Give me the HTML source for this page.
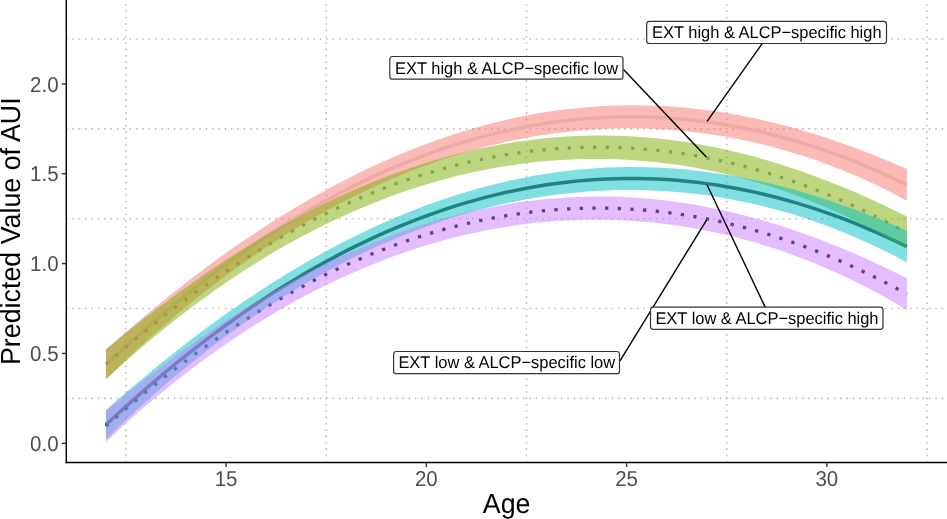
<!DOCTYPE html>
<html><head><meta charset="utf-8"><style>
html,body{margin:0;padding:0;background:#fff;}
svg{display:block;font-family:"Liberation Sans",sans-serif;text-rendering:geometricPrecision;will-change:transform;}
</style></head><body>
<svg width="947" height="519" viewBox="0 0 947 519">
<rect width="947" height="519" fill="#fff"/>
<line x1="66" y1="398.38" x2="947" y2="398.38" stroke="#BDBDBD" stroke-width="1.6" stroke-dasharray="1.6 4.745"/>
<line x1="66" y1="308.53" x2="947" y2="308.53" stroke="#BDBDBD" stroke-width="1.6" stroke-dasharray="1.6 4.745"/>
<line x1="66" y1="218.68" x2="947" y2="218.68" stroke="#BDBDBD" stroke-width="1.6" stroke-dasharray="1.6 4.745"/>
<line x1="66" y1="128.83" x2="947" y2="128.83" stroke="#BDBDBD" stroke-width="1.6" stroke-dasharray="1.6 4.745"/>
<line x1="66" y1="38.98" x2="947" y2="38.98" stroke="#BDBDBD" stroke-width="1.6" stroke-dasharray="1.6 4.745"/>
<line x1="125.97" y1="462.6" x2="125.97" y2="0" stroke="#BDBDBD" stroke-width="1.6" stroke-dasharray="1.6 4.745"/>
<line x1="326.23" y1="462.6" x2="326.23" y2="0" stroke="#BDBDBD" stroke-width="1.6" stroke-dasharray="1.6 4.745"/>
<line x1="526.48" y1="462.6" x2="526.48" y2="0" stroke="#BDBDBD" stroke-width="1.6" stroke-dasharray="1.6 4.745"/>
<line x1="726.72" y1="462.6" x2="726.72" y2="0" stroke="#BDBDBD" stroke-width="1.6" stroke-dasharray="1.6 4.745"/>
<line x1="926.98" y1="462.6" x2="926.98" y2="0" stroke="#BDBDBD" stroke-width="1.6" stroke-dasharray="1.6 4.745"/>
<path d="M105.95,364.52 L115.96,355.17 L125.97,346.00 L135.99,337.01 L146.00,328.20 L156.01,319.57 L166.03,311.12 L176.04,302.85 L186.05,294.76 L196.06,286.85 L206.07,279.12 L216.09,271.57 L226.10,264.19 L236.11,257.00 L246.12,249.99 L256.14,243.16 L266.15,236.51 L276.16,230.04 L286.18,223.74 L296.19,217.63 L306.20,211.70 L316.21,205.95 L326.23,200.37 L336.24,194.98 L346.25,189.77 L356.26,184.74 L366.27,179.88 L376.29,175.21 L386.30,170.72 L396.31,166.40 L406.32,162.27 L416.34,158.32 L426.35,154.54 L436.36,150.95 L446.38,147.53 L456.39,144.30 L466.40,141.25 L476.41,138.37 L486.42,135.68 L496.44,133.16 L506.45,130.83 L516.46,128.67 L526.48,126.70 L536.49,124.90 L546.50,123.29 L556.51,121.85 L566.52,120.60 L576.54,119.52 L586.55,118.63 L596.56,117.91 L606.57,117.37 L616.59,117.02 L626.60,116.84 L636.61,116.84 L646.62,117.03 L656.64,117.39 L666.65,117.93 L676.66,118.66 L686.67,119.56 L696.69,120.64 L706.70,121.91 L716.71,123.35 L726.72,124.97 L736.74,126.77 L746.75,128.76 L756.76,130.92 L766.77,133.26 L776.79,135.78 L786.80,138.48 L796.81,141.36 L806.82,144.43 L816.84,147.67 L826.85,151.09 L836.86,154.69 L846.88,158.47 L856.89,162.43 L866.90,166.57 L876.91,170.89 L886.92,175.39 L896.94,180.07 L906.95,184.93" fill="none" stroke="#DFDFDF" stroke-width="3.5"/>
<path d="M105.95,364.33 L115.96,355.58 L125.97,347.01 L135.99,338.62 L146.00,330.42 L156.01,322.39 L166.03,314.54 L176.04,306.87 L186.05,299.38 L196.06,292.07 L206.07,284.94 L216.09,277.99 L226.10,271.22 L236.11,264.63 L246.12,258.22 L256.14,251.99 L266.15,245.94 L276.16,240.07 L286.18,234.38 L296.19,228.87 L306.20,223.54 L316.21,218.39 L326.23,213.42 L336.24,208.63 L346.25,204.01 L356.26,199.58 L366.27,195.33 L376.29,191.26 L386.30,187.37 L396.31,183.66 L406.32,180.12 L416.34,176.77 L426.35,173.60 L436.36,170.61 L446.38,167.79 L456.39,165.16 L466.40,162.71 L476.41,160.44 L486.42,158.34 L496.44,156.43 L506.45,154.70 L516.46,153.14 L526.48,151.77 L536.49,150.58 L546.50,149.56 L556.51,148.73 L566.52,148.07 L576.54,147.60 L586.55,147.31 L596.56,147.19 L606.57,147.26 L616.59,147.50 L626.60,147.93 L636.61,148.53 L646.62,149.32 L656.64,150.28 L666.65,151.43 L676.66,152.75 L686.67,154.26 L696.69,155.94 L706.70,157.81 L716.71,159.85 L726.72,162.07 L736.74,164.48 L746.75,167.06 L756.76,169.82 L766.77,172.77 L776.79,175.89 L786.80,179.19 L796.81,182.68 L806.82,186.34 L816.84,190.18 L826.85,194.21 L836.86,198.41 L846.88,202.79 L856.89,207.35 L866.90,212.10 L876.91,217.02 L886.92,222.12 L896.94,227.40 L906.95,232.86" fill="none" stroke="#969696" stroke-width="3.3" stroke-dasharray="3.3 9.375"/>
<path d="M105.95,424.83 L115.96,415.52 L125.97,406.39 L135.99,397.45 L146.00,388.67 L156.01,380.08 L166.03,371.67 L176.04,363.44 L186.05,355.39 L196.06,347.51 L206.07,339.82 L216.09,332.30 L226.10,324.97 L236.11,317.81 L246.12,310.83 L256.14,304.03 L266.15,297.41 L276.16,290.97 L286.18,284.71 L296.19,278.63 L306.20,272.73 L316.21,267.00 L326.23,261.46 L336.24,256.10 L346.25,250.91 L356.26,245.90 L366.27,241.08 L376.29,236.43 L386.30,231.96 L396.31,227.67 L406.32,223.56 L416.34,219.63 L426.35,215.88 L436.36,212.31 L446.38,208.92 L456.39,205.70 L466.40,202.67 L476.41,199.81 L486.42,197.14 L496.44,194.64 L506.45,192.32 L516.46,190.18 L526.48,188.23 L536.49,186.45 L546.50,184.85 L556.51,183.43 L566.52,182.18 L576.54,181.12 L586.55,180.24 L596.56,179.53 L606.57,179.01 L616.59,178.66 L626.60,178.50 L636.61,178.51 L646.62,178.70 L656.64,179.07 L666.65,179.62 L676.66,180.35 L686.67,181.26 L696.69,182.35 L706.70,183.62 L716.71,185.07 L726.72,186.69 L736.74,188.50 L746.75,190.48 L756.76,192.65 L766.77,194.99 L776.79,197.51 L786.80,200.21 L796.81,203.09 L806.82,206.15 L816.84,209.39 L826.85,212.81 L836.86,216.41 L846.88,220.19 L856.89,224.14 L866.90,228.28 L876.91,232.59 L886.92,237.09 L896.94,241.76 L906.95,246.61" fill="none" stroke="#424242" stroke-width="3.5"/>
<path d="M105.95,426.32 L115.96,417.47 L125.97,408.81 L135.99,400.34 L146.00,392.04 L156.01,383.94 L166.03,376.02 L176.04,368.28 L186.05,360.73 L196.06,353.36 L206.07,346.17 L216.09,339.17 L226.10,332.36 L236.11,325.73 L246.12,319.28 L256.14,313.02 L266.15,306.94 L276.16,301.05 L286.18,295.34 L296.19,289.82 L306.20,284.48 L316.21,279.32 L326.23,274.35 L336.24,269.55 L346.25,264.94 L356.26,260.50 L366.27,256.24 L376.29,252.17 L386.30,248.27 L396.31,244.56 L406.32,241.03 L416.34,237.67 L426.35,234.50 L436.36,231.50 L446.38,228.69 L456.39,226.06 L466.40,223.61 L476.41,221.33 L486.42,219.24 L496.44,217.33 L506.45,215.60 L516.46,214.04 L526.48,212.67 L536.49,211.48 L546.50,210.47 L556.51,209.64 L566.52,208.99 L576.54,208.52 L586.55,208.23 L596.56,208.12 L606.57,208.19 L616.59,208.44 L626.60,208.87 L636.61,209.49 L646.62,210.28 L656.64,211.25 L666.65,212.40 L676.66,213.73 L686.67,215.25 L696.69,216.94 L706.70,218.81 L716.71,220.87 L726.72,223.10 L736.74,225.51 L746.75,228.11 L756.76,230.88 L766.77,233.84 L776.79,236.97 L786.80,240.29 L796.81,243.78 L806.82,247.46 L816.84,251.31 L826.85,255.35 L836.86,259.57 L846.88,263.96 L856.89,268.54 L866.90,273.30 L876.91,278.23 L886.92,283.35 L896.94,288.65 L906.95,294.13" fill="none" stroke="#000000" stroke-width="3.3" stroke-dasharray="3.3 9.375"/>
<path d="M105.95,349.52 L115.96,340.67 L125.97,331.97 L135.99,323.41 L146.00,314.97 L156.01,306.66 L166.03,298.51 L176.04,290.51 L186.05,282.68 L196.06,275.00 L206.07,267.48 L216.09,260.12 L226.10,252.90 L236.11,245.85 L246.12,238.98 L256.14,232.29 L266.15,225.76 L276.16,219.39 L286.18,213.18 L296.19,207.13 L306.20,201.21 L316.21,195.46 L326.23,189.88 L336.24,184.49 L346.25,179.27 L356.26,174.22 L366.27,169.36 L376.29,164.67 L386.30,160.17 L396.31,155.84 L406.32,151.69 L416.34,147.72 L426.35,143.91 L436.36,140.28 L446.38,136.82 L456.39,133.54 L466.40,130.43 L476.41,127.51 L486.42,124.76 L496.44,122.20 L506.45,119.82 L516.46,117.61 L526.48,115.59 L536.49,113.74 L546.50,112.07 L556.51,110.59 L566.52,109.29 L576.54,108.18 L586.55,107.24 L596.56,106.49 L606.57,105.92 L616.59,105.53 L626.60,105.31 L636.61,105.29 L646.62,105.44 L656.64,105.77 L666.65,106.29 L676.66,106.98 L686.67,107.85 L696.69,108.89 L706.70,110.12 L716.71,111.52 L726.72,113.09 L736.74,114.83 L746.75,116.75 L756.76,118.83 L766.77,121.08 L776.79,123.50 L786.80,126.09 L796.81,128.85 L806.82,131.76 L816.84,134.83 L826.85,138.04 L836.86,141.41 L846.88,144.93 L856.89,148.60 L866.90,152.44 L876.91,156.43 L886.92,160.55 L896.94,164.77 L906.95,169.11 L906.95,200.75 L896.94,195.38 L886.92,190.23 L876.91,185.36 L866.90,180.71 L856.89,176.26 L846.88,172.02 L836.86,167.97 L826.85,164.14 L816.84,160.51 L806.82,157.09 L796.81,153.88 L786.80,150.88 L776.79,148.06 L766.77,145.44 L756.76,143.01 L746.75,140.77 L736.74,138.71 L726.72,136.85 L716.71,135.18 L706.70,133.69 L696.69,132.39 L686.67,131.27 L676.66,130.34 L666.65,129.58 L656.64,129.01 L646.62,128.62 L636.61,128.40 L626.60,128.37 L616.59,128.51 L606.57,128.83 L596.56,129.33 L586.55,130.01 L576.54,130.86 L566.52,131.90 L556.51,133.11 L546.50,134.50 L536.49,136.07 L526.48,137.81 L516.46,139.73 L506.45,141.84 L496.44,144.13 L486.42,146.59 L476.41,149.24 L466.40,152.06 L456.39,155.06 L446.38,158.25 L436.36,161.62 L426.35,165.17 L416.34,168.92 L406.32,172.85 L396.31,176.97 L386.30,181.27 L376.29,185.75 L366.27,190.41 L356.26,195.25 L346.25,200.27 L336.24,205.48 L326.23,210.87 L316.21,216.43 L306.20,222.19 L296.19,228.14 L286.18,234.30 L276.16,240.68 L266.15,247.26 L256.14,254.03 L246.12,261.00 L236.11,268.15 L226.10,275.49 L216.09,283.01 L206.07,290.75 L196.06,298.69 L186.05,306.84 L176.04,315.19 L166.03,323.73 L156.01,332.48 L146.00,341.43 L135.99,350.61 L125.97,360.04 L115.96,369.68 L105.95,379.52 Z" fill="#F8766D" fill-opacity="0.5"/>
<path d="M105.95,349.33 L115.96,341.07 L125.97,332.97 L135.99,325.00 L146.00,317.16 L156.01,309.44 L166.03,301.89 L176.04,294.49 L186.05,287.25 L196.06,280.17 L206.07,273.25 L216.09,266.48 L226.10,259.86 L236.11,253.41 L246.12,247.14 L256.14,241.04 L266.15,235.11 L276.16,229.34 L286.18,223.72 L296.19,218.26 L306.20,212.95 L316.21,207.79 L326.23,202.81 L336.24,198.01 L346.25,193.38 L356.26,188.94 L366.27,184.67 L376.29,180.58 L386.30,176.67 L396.31,172.94 L406.32,169.38 L416.34,166.01 L426.35,162.80 L436.36,159.76 L446.38,156.90 L456.39,154.21 L466.40,151.70 L476.41,149.37 L486.42,147.22 L496.44,145.25 L506.45,143.46 L516.46,141.86 L526.48,140.42 L536.49,139.17 L546.50,138.10 L556.51,137.22 L566.52,136.51 L576.54,135.99 L586.55,135.65 L596.56,135.49 L606.57,135.51 L616.59,135.72 L626.60,136.10 L636.61,136.67 L646.62,137.41 L656.64,138.34 L666.65,139.45 L676.66,140.74 L686.67,142.20 L696.69,143.84 L706.70,145.66 L716.71,147.66 L726.72,149.82 L736.74,152.16 L746.75,154.66 L756.76,157.34 L766.77,160.19 L776.79,163.20 L786.80,166.38 L796.81,169.72 L806.82,173.23 L816.84,176.88 L826.85,180.69 L836.86,184.64 L846.88,188.74 L856.89,193.00 L866.90,197.42 L876.91,202.00 L886.92,206.70 L896.94,211.49 L906.95,216.41 L906.95,249.32 L896.94,243.32 L886.92,237.54 L876.91,232.04 L866.90,226.77 L856.89,221.70 L846.88,216.84 L836.86,212.18 L826.85,207.73 L816.84,203.48 L806.82,199.45 L796.81,195.63 L786.80,192.01 L776.79,188.58 L766.77,185.35 L756.76,182.31 L746.75,179.46 L736.74,176.80 L726.72,174.32 L716.71,172.04 L706.70,169.95 L696.69,168.04 L686.67,166.31 L676.66,164.77 L666.65,163.40 L656.64,162.22 L646.62,161.22 L636.61,160.40 L626.60,159.75 L616.59,159.29 L606.57,159.00 L596.56,158.89 L586.55,158.96 L576.54,159.21 L566.52,159.64 L556.51,160.24 L546.50,161.02 L536.49,161.98 L526.48,163.12 L516.46,164.43 L506.45,165.93 L496.44,167.61 L486.42,169.47 L476.41,171.50 L466.40,173.72 L456.39,176.11 L446.38,178.69 L436.36,181.45 L426.35,184.40 L416.34,187.54 L406.32,190.86 L396.31,194.37 L386.30,198.07 L376.29,201.94 L366.27,205.99 L356.26,210.23 L346.25,214.64 L336.24,219.24 L326.23,224.02 L316.21,228.99 L306.20,234.13 L296.19,239.48 L286.18,245.04 L276.16,250.80 L266.15,256.78 L256.14,262.94 L246.12,269.31 L236.11,275.85 L226.10,282.58 L216.09,289.50 L206.07,296.63 L196.06,303.97 L186.05,311.51 L176.04,319.25 L166.03,327.19 L156.01,335.33 L146.00,343.67 L135.99,352.25 L125.97,361.06 L115.96,370.09 L105.95,379.33 Z" fill="#7CAE00" fill-opacity="0.5"/>
<path d="M105.95,410.06 L115.96,401.23 L125.97,392.57 L135.99,384.04 L146.00,375.64 L156.01,367.36 L166.03,359.23 L176.04,351.27 L186.05,343.47 L196.06,335.83 L206.07,328.34 L216.09,321.00 L226.10,313.82 L236.11,306.80 L246.12,299.96 L256.14,293.29 L266.15,286.79 L276.16,280.46 L286.18,274.27 L296.19,268.24 L306.20,262.36 L316.21,256.63 L326.23,251.08 L336.24,245.71 L346.25,240.52 L356.26,235.50 L366.27,230.66 L376.29,226.00 L386.30,221.51 L396.31,217.21 L406.32,213.08 L416.34,209.13 L426.35,205.35 L436.36,201.73 L446.38,198.30 L456.39,195.03 L466.40,191.94 L476.41,189.04 L486.42,186.31 L496.44,183.76 L506.45,181.39 L516.46,179.21 L526.48,177.19 L536.49,175.36 L546.50,173.71 L556.51,172.24 L566.52,170.95 L576.54,169.85 L586.55,168.92 L596.56,168.18 L606.57,167.62 L616.59,167.23 L626.60,167.03 L636.61,167.01 L646.62,167.17 L656.64,167.51 L666.65,168.03 L676.66,168.72 L686.67,169.60 L696.69,170.65 L706.70,171.88 L716.71,173.28 L726.72,174.85 L736.74,176.59 L746.75,178.51 L756.76,180.59 L766.77,182.84 L776.79,185.26 L786.80,187.85 L796.81,190.60 L806.82,193.51 L816.84,196.57 L826.85,199.78 L836.86,203.14 L846.88,206.66 L856.89,210.33 L866.90,214.15 L876.91,218.14 L886.92,222.25 L896.94,226.46 L906.95,230.79 L906.95,262.43 L896.94,257.07 L886.92,251.92 L876.91,247.05 L866.90,242.40 L856.89,237.96 L846.88,233.72 L836.86,229.68 L826.85,225.84 L816.84,222.21 L806.82,218.79 L796.81,215.59 L786.80,212.58 L776.79,209.76 L766.77,207.14 L756.76,204.70 L746.75,202.46 L736.74,200.40 L726.72,198.53 L716.71,196.85 L706.70,195.36 L696.69,194.05 L686.67,192.93 L676.66,191.98 L666.65,191.22 L656.64,190.64 L646.62,190.23 L636.61,190.01 L626.60,189.96 L616.59,190.09 L606.57,190.40 L596.56,190.89 L586.55,191.55 L576.54,192.39 L566.52,193.41 L556.51,194.61 L546.50,195.98 L536.49,197.53 L526.48,199.26 L516.46,201.16 L506.45,203.25 L496.44,205.52 L486.42,207.97 L476.41,210.59 L466.40,213.39 L456.39,216.37 L446.38,219.54 L436.36,222.88 L426.35,226.42 L416.34,230.14 L406.32,234.04 L396.31,238.14 L386.30,242.41 L376.29,246.86 L366.27,251.49 L356.26,256.31 L346.25,261.30 L336.24,266.48 L326.23,271.84 L316.21,277.38 L306.20,283.10 L296.19,289.02 L286.18,295.15 L276.16,301.49 L266.15,308.03 L256.14,314.77 L246.12,321.70 L236.11,328.82 L226.10,336.11 L216.09,343.60 L206.07,351.30 L196.06,359.20 L186.05,367.30 L176.04,375.61 L166.03,384.11 L156.01,392.81 L146.00,401.71 L135.99,410.85 L125.97,420.22 L115.96,429.81 L105.95,439.61 Z" fill="#00BFC4" fill-opacity="0.5"/>
<path d="M105.95,410.87 L115.96,402.54 L125.97,394.36 L135.99,386.34 L146.00,378.44 L156.01,370.66 L166.03,363.05 L176.04,355.60 L186.05,348.31 L196.06,341.19 L206.07,334.23 L216.09,327.42 L226.10,320.77 L236.11,314.29 L246.12,307.99 L256.14,301.87 L266.15,295.93 L276.16,290.15 L286.18,284.53 L296.19,279.06 L306.20,273.74 L316.21,268.59 L326.23,263.61 L336.24,258.82 L346.25,254.20 L356.26,249.75 L366.27,245.49 L376.29,241.41 L386.30,237.50 L396.31,233.77 L406.32,230.23 L416.34,226.86 L426.35,223.65 L436.36,220.62 L446.38,217.77 L456.39,215.09 L466.40,212.59 L476.41,210.27 L486.42,208.13 L496.44,206.17 L506.45,204.39 L516.46,202.79 L526.48,201.37 L536.49,200.13 L546.50,199.08 L556.51,198.20 L566.52,197.51 L576.54,197.00 L586.55,196.68 L596.56,196.53 L606.57,196.57 L616.59,196.79 L626.60,197.19 L636.61,197.77 L646.62,198.53 L656.64,199.48 L666.65,200.61 L676.66,201.91 L686.67,203.39 L696.69,205.05 L706.70,206.89 L716.71,208.90 L726.72,211.09 L736.74,213.45 L746.75,215.98 L756.76,218.67 L766.77,221.54 L776.79,224.58 L786.80,227.78 L796.81,231.16 L806.82,234.69 L816.84,238.37 L826.85,242.20 L836.86,246.19 L846.88,250.32 L856.89,254.62 L866.90,259.07 L876.91,263.69 L886.92,268.43 L896.94,273.26 L906.95,278.23 L906.95,310.03 L896.94,304.04 L886.92,298.28 L876.91,292.78 L866.90,287.52 L856.89,282.46 L846.88,277.60 L836.86,272.95 L826.85,268.50 L816.84,264.26 L806.82,260.23 L796.81,256.41 L786.80,252.79 L776.79,249.36 L766.77,246.13 L756.76,243.09 L746.75,240.24 L736.74,237.58 L726.72,235.11 L716.71,232.83 L706.70,230.73 L696.69,228.82 L686.67,227.10 L676.66,225.56 L666.65,224.20 L656.64,223.02 L646.62,222.02 L636.61,221.20 L626.60,220.56 L616.59,220.10 L606.57,219.81 L596.56,219.71 L586.55,219.78 L576.54,220.04 L566.52,220.47 L556.51,221.08 L546.50,221.87 L536.49,222.83 L526.48,223.97 L516.46,225.30 L506.45,226.80 L496.44,228.49 L486.42,230.35 L476.41,232.40 L466.40,234.62 L456.39,237.03 L446.38,239.61 L436.36,242.38 L426.35,245.34 L416.34,248.49 L406.32,251.82 L396.31,255.35 L386.30,259.05 L376.29,262.93 L366.27,267.00 L356.26,271.25 L346.25,275.68 L336.24,280.29 L326.23,285.08 L316.21,290.06 L306.20,295.22 L296.19,300.58 L286.18,306.16 L276.16,311.96 L266.15,317.96 L256.14,324.17 L246.12,330.57 L236.11,337.17 L226.10,343.95 L216.09,350.93 L206.07,358.12 L196.06,365.52 L186.05,373.14 L176.04,380.96 L166.03,388.98 L156.01,397.22 L146.00,405.65 L135.99,414.33 L125.97,423.26 L115.96,432.41 L105.95,441.77 Z" fill="#C77CFF" fill-opacity="0.5"/>
<line x1="762.0" y1="43.8" x2="707.1" y2="121.3" stroke="#000" stroke-width="1.4"/>
<line x1="623.5" y1="69.4" x2="706.3" y2="157.0" stroke="#000" stroke-width="1.4"/>
<line x1="765.2" y1="307.1" x2="707.0" y2="184.7" stroke="#000" stroke-width="1.4"/>
<line x1="620.0" y1="360.8" x2="706.7" y2="219.8" stroke="#000" stroke-width="1.4"/>
<rect x="646.70" y="21.30" width="239.80" height="22.20" rx="2.8" ry="2.8" fill="#fff" stroke="#333" stroke-width="1.2"/>
<text transform="translate(766.80,38.00) scale(1,1.03)" text-anchor="middle" font-size="16.46" fill="#000">EXT high &amp; ALCP−specific high</text>
<rect x="389.80" y="56.50" width="233.20" height="22.70" rx="2.8" ry="2.8" fill="#fff" stroke="#333" stroke-width="1.2"/>
<text transform="translate(506.60,74.00) scale(1,1.03)" text-anchor="middle" font-size="16.46" fill="#000">EXT high &amp; ALCP−specific low</text>
<rect x="650.50" y="307.20" width="232.50" height="22.20" rx="2.8" ry="2.8" fill="#fff" stroke="#333" stroke-width="1.2"/>
<text transform="translate(766.95,324.00) scale(1,1.03)" text-anchor="middle" font-size="16.46" fill="#000">EXT low &amp; ALCP−specific high</text>
<rect x="393.60" y="351.50" width="225.90" height="22.20" rx="2.8" ry="2.8" fill="#fff" stroke="#333" stroke-width="1.2"/>
<text transform="translate(506.75,368.00) scale(1,1.03)" text-anchor="middle" font-size="16.46" fill="#000">EXT low &amp; ALCP−specific low</text>
<line x1="66.3" y1="0" x2="66.3" y2="463.2" stroke="#000" stroke-width="1.4"/>
<line x1="65.6" y1="462.5" x2="947" y2="462.5" stroke="#000" stroke-width="1.4"/>
<line x1="61.9" y1="443.30" x2="66" y2="443.30" stroke="#333" stroke-width="1.4"/>
<text transform="translate(58.6,450.50) scale(1,1.05)" text-anchor="end" font-size="20.5" fill="#4D4D4D">0.0</text>
<line x1="61.9" y1="353.45" x2="66" y2="353.45" stroke="#333" stroke-width="1.4"/>
<text transform="translate(58.6,360.83) scale(1,1.05)" text-anchor="end" font-size="20.5" fill="#4D4D4D">0.5</text>
<line x1="61.9" y1="263.60" x2="66" y2="263.60" stroke="#333" stroke-width="1.4"/>
<text transform="translate(58.6,271.15) scale(1,1.05)" text-anchor="end" font-size="20.5" fill="#4D4D4D">1.0</text>
<line x1="61.9" y1="173.75" x2="66" y2="173.75" stroke="#333" stroke-width="1.4"/>
<text transform="translate(58.6,181.48) scale(1,1.05)" text-anchor="end" font-size="20.5" fill="#4D4D4D">1.5</text>
<line x1="61.9" y1="83.90" x2="66" y2="83.90" stroke="#333" stroke-width="1.4"/>
<text transform="translate(58.6,91.80) scale(1,1.05)" text-anchor="end" font-size="20.5" fill="#4D4D4D">2.0</text>
<line x1="226.10" y1="463" x2="226.10" y2="467" stroke="#333" stroke-width="1.4"/>
<text transform="translate(226.10,485.5) scale(1,1.05)" text-anchor="middle" font-size="20.5" fill="#4D4D4D">15</text>
<line x1="426.35" y1="463" x2="426.35" y2="467" stroke="#333" stroke-width="1.4"/>
<text transform="translate(426.35,485.5) scale(1,1.05)" text-anchor="middle" font-size="20.5" fill="#4D4D4D">20</text>
<line x1="626.60" y1="463" x2="626.60" y2="467" stroke="#333" stroke-width="1.4"/>
<text transform="translate(626.60,485.5) scale(1,1.05)" text-anchor="middle" font-size="20.5" fill="#4D4D4D">25</text>
<line x1="826.85" y1="463" x2="826.85" y2="467" stroke="#333" stroke-width="1.4"/>
<text transform="translate(826.85,485.5) scale(1,1.05)" text-anchor="middle" font-size="20.5" fill="#4D4D4D">30</text>
<text transform="translate(506.6,512.7) scale(1,1.035)" text-anchor="middle" font-size="26.8" fill="#000">Age</text>
<text transform="translate(20,231.2) rotate(-90) scale(1,1.03)" x="0" y="0" text-anchor="middle" font-size="26.8" fill="#000">Predicted Value of AUI</text>
</svg></body></html>
